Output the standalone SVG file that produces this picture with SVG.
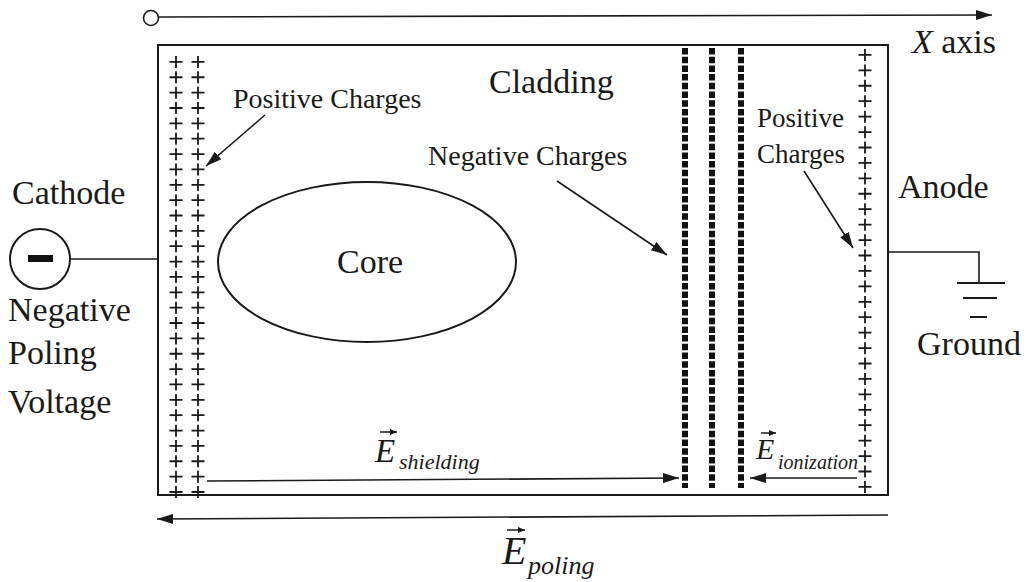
<svg xmlns="http://www.w3.org/2000/svg" width="1032" height="582" viewBox="0 0 1032 582">
<style>
text{font-family:"Liberation Serif","Times New Roman",serif;fill:#1a1a1a}
.big{font-size:34px}
.mid{font-size:28px}
.it{font-style:italic}
.ln{stroke:#1a1a1a;stroke-width:2;fill:none}
.thin{stroke:#1a1a1a;stroke-width:1.6;fill:none}
.vec{stroke:#1a1a1a;stroke-width:1.5;fill:none}
.neg{stroke:#111;stroke-width:6;stroke-dasharray:6.5 2.2;fill:none}
.pv{stroke:#1a1a1a;stroke-width:1.8;fill:none}
</style>
<defs>
<marker id="ah" markerUnits="userSpaceOnUse" markerWidth="18" markerHeight="10" refX="16" refY="5" orient="auto">
<path d="M0,0 L16,5 L0,10 z" fill="#1a1a1a"/>
</marker>
<marker id="sh" markerUnits="userSpaceOnUse" markerWidth="8" markerHeight="6" refX="7" refY="3" orient="auto">
<path d="M0,0 L7,3 L0,6 z" fill="#1a1a1a"/>
</marker>
</defs>
<rect width="1032" height="582" fill="#ffffff"/>

<g id="xaxis">
<circle cx="151" cy="18" r="7.5" class="thin"/>
<line x1="158.5" y1="17" x2="992" y2="15" class="thin" marker-end="url(#ah)"/>
<text x="912" y="53" class="big"><tspan class="it">X</tspan> axis</text>
</g>

<g id="cladding">
<rect x="158" y="45" width="730" height="450" class="ln"/>
<text x="489" y="93" class="big">Cladding</text>
</g>

<g id="core">
<ellipse cx="367" cy="262" rx="149" ry="80" class="ln"/>
<text x="370" y="273" class="big" text-anchor="middle">Core</text>
</g>

<g id="positive-left">
<line x1="176" y1="56" x2="176" y2="498" class="pv" stroke-dasharray="12 3.36"/>
<line x1="176" y1="61" x2="176" y2="498" stroke="#1a1a1a" stroke-width="13" stroke-dasharray="1.8 13.56"/>
<line x1="198" y1="56" x2="198" y2="498" class="pv" stroke-dasharray="12 3.36"/>
<line x1="198" y1="61" x2="198" y2="498" stroke="#1a1a1a" stroke-width="13" stroke-dasharray="1.8 13.56"/>
<text x="233" y="108" class="mid">Positive Charges</text>
</g>

<g id="positive-right">
<line x1="865" y1="49" x2="865" y2="493" class="pv" stroke-dasharray="12 3.43"/>
<line x1="865" y1="54" x2="865" y2="493" stroke="#1a1a1a" stroke-width="13" stroke-dasharray="1.8 13.63"/>
<text x="757" y="127" style="font-size:27px">Positive</text>
<text x="757" y="163" style="font-size:27px">Charges</text>
</g>

<g id="negative-charges">
<line x1="685" y1="48" x2="685" y2="488" class="neg"/>
<line x1="712" y1="48" x2="712" y2="488" class="neg"/>
<line x1="741" y1="48" x2="741" y2="488" class="neg"/>
<text x="428" y="165" class="mid">Negative Charges</text>
</g>

<g id="cathode">
<text x="12" y="204" class="big">Cathode</text>
<circle cx="40" cy="259" r="30" class="ln"/>
<rect x="28" y="255" width="25" height="7" fill="#111"/>
<text x="8" y="321" class="big">Negative</text>
<text x="8" y="364" class="big">Poling</text>
<text x="8" y="413" class="big">Voltage</text>
</g>

<g id="anode">
<text x="898" y="198" class="big">Anode</text>
<text x="917" y="355" class="big">Ground</text>
<line x1="957" y1="283" x2="1005" y2="283" class="ln"/>
<line x1="963" y1="298" x2="997" y2="298" class="ln"/>
<line x1="970" y1="317" x2="987" y2="317" class="ln"/>
</g>

<g id="e-shielding">
<text x="375" y="462" class="it" style="font-size:33px">E</text>
<text x="399" y="469" class="it" style="font-size:22px">shielding</text>
<line x1="380" y1="432" x2="397" y2="432" class="vec" marker-end="url(#sh)"/>
</g>

<g id="e-ionization">
<text x="756" y="459" class="it" style="font-size:30px">E</text>
<text x="778" y="469" class="it" style="font-size:20px">ionization</text>
<line x1="761" y1="433" x2="776" y2="433" class="vec" marker-end="url(#sh)"/>
</g>

<g id="e-poling">
<text x="502" y="564" class="it" style="font-size:40px">E</text>
<text x="528" y="574" class="it" style="font-size:26px">poling</text>
<line x1="507" y1="530" x2="525" y2="530" class="vec" marker-end="url(#sh)"/>
</g>

<g id="connectors">
<line x1="70" y1="259" x2="158" y2="259" class="thin"/>
<polyline points="888,252 979,252 979,283" class="thin"/>
<line x1="265" y1="115" x2="206" y2="166" class="thin" marker-end="url(#ah)"/>
<line x1="557" y1="181" x2="667" y2="255" class="thin" marker-end="url(#ah)"/>
<line x1="804" y1="171" x2="853" y2="248" class="thin" marker-end="url(#ah)"/>
<line x1="207" y1="481" x2="679" y2="478" class="thin" marker-end="url(#ah)"/>
<line x1="857" y1="478" x2="750" y2="478" class="thin" marker-end="url(#ah)"/>
<line x1="888" y1="515" x2="157" y2="519" class="thin" marker-end="url(#ah)"/>
</g>
</svg>
